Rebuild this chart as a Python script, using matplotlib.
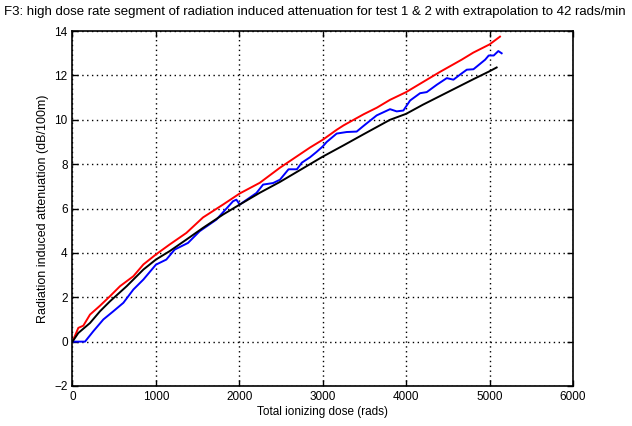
import matplotlib
matplotlib.use("Agg")
import matplotlib.pyplot as plt

red_x = [0, 70, 130, 210, 330, 450, 570, 730, 850, 1000, 1165, 1365, 1565, 1805, 2005, 2245,
         2487, 2847, 3000, 3167, 3250, 3490, 3650, 3806, 4000, 4200, 4405, 4665, 4805, 5000, 5125]
red_y = [0, 0.62, 0.72, 1.22, 1.62, 2.05, 2.5, 2.95, 3.48, 3.93, 4.38, 4.9, 5.6, 6.18, 6.68, 7.16,
         7.84, 8.75, 9.1, 9.55, 9.75, 10.25, 10.55, 10.9, 11.25, 11.7, 12.16, 12.71, 13.03, 13.4, 13.75]

blue_x = [0, 150, 250, 370, 490, 610, 730, 850, 1000, 1125, 1225, 1385, 1525, 1725, 1925, 1965,
          2005, 2205, 2285, 2405, 2487, 2590, 2690, 2750, 2847, 2925, 3000, 3047, 3167, 3287,
          3407, 3487, 3647, 3807, 3887, 3967, 4047, 4167, 4247, 4367, 4487, 4567, 4647, 4727,
          4807, 4947, 4990, 5050, 5105, 5145]
blue_y = [0, 0, 0.47, 1.0, 1.37, 1.75, 2.35, 2.8, 3.47, 3.7, 4.15, 4.45, 4.98, 5.5, 6.33, 6.4,
          6.18, 6.7, 7.08, 7.15, 7.3, 7.77, 7.77, 8.07, 8.31, 8.55, 8.8, 9.0, 9.38, 9.45,
          9.47, 9.72, 10.2, 10.48, 10.38, 10.42, 10.87, 11.2, 11.25, 11.58, 11.88, 11.81, 12.04, 12.26,
          12.28, 12.71, 12.9, 12.9, 13.1, 13.0]

black_x = [0, 70, 210, 330, 450, 650, 850, 1000, 1165, 1365, 1565, 1805, 2005, 2245, 2487,
           2847, 3000, 3250, 3490, 3806, 4000, 4200, 4405, 4605, 4805, 5000, 5085]
black_y = [0, 0.39, 0.84, 1.37, 1.82, 2.5, 3.25, 3.7, 4.08, 4.6, 5.13, 5.73, 6.18, 6.71, 7.2,
           8.0, 8.34, 8.85, 9.35, 10.0, 10.27, 10.68, 11.07, 11.45, 11.83, 12.19, 12.36]

x_ticks = [0, 1000, 2000, 3000, 4000, 5000, 6000]
y_ticks = [-2, 0, 2, 4, 6, 8, 10, 12, 14]

plt.rcParams['font.family'] = ['Liberation Sans', 'DejaVu Sans']
fig = plt.figure(figsize=(6.32, 4.26), dpi=100)
ax = fig.add_axes([0.1147, 0.0939, 0.9066 - 0.1147, 0.927 - 0.0939])

ax.plot(red_x, red_y, color='red', lw=1.4)
ax.plot(blue_x, blue_y, color='blue', lw=1.4)
ax.plot(black_x, black_y, color='black', lw=1.4)

ax.set_xlim(0, 6000)
ax.set_ylim(-2, 14)
ax.set_xticks(x_ticks)
ax.set_yticks(y_ticks)
ax.tick_params(direction='in', top=True, right=True, labelsize=8.5, length=4, width=1)
ax.grid(True, color='black', linestyle=(0, (1, 2.5)), linewidth=1)
for s in ax.spines.values():
    s.set_linewidth(1.2)
ax.set_xlabel('Total ionizing dose (rads)', fontsize=8.5, labelpad=2)
ax.set_ylabel('Radiation induced attenuation (dB/100m)', fontsize=9, labelpad=4)
fig.text(315 / 632, 1 - 12 / 426,
         'F3: high dose rate segment of radiation induced attenuation for test 1 & 2 with extrapolation to 42 rads/min',
         ha='center', va='center', fontsize=9.5)

fig.savefig('out.png', dpi=100)
